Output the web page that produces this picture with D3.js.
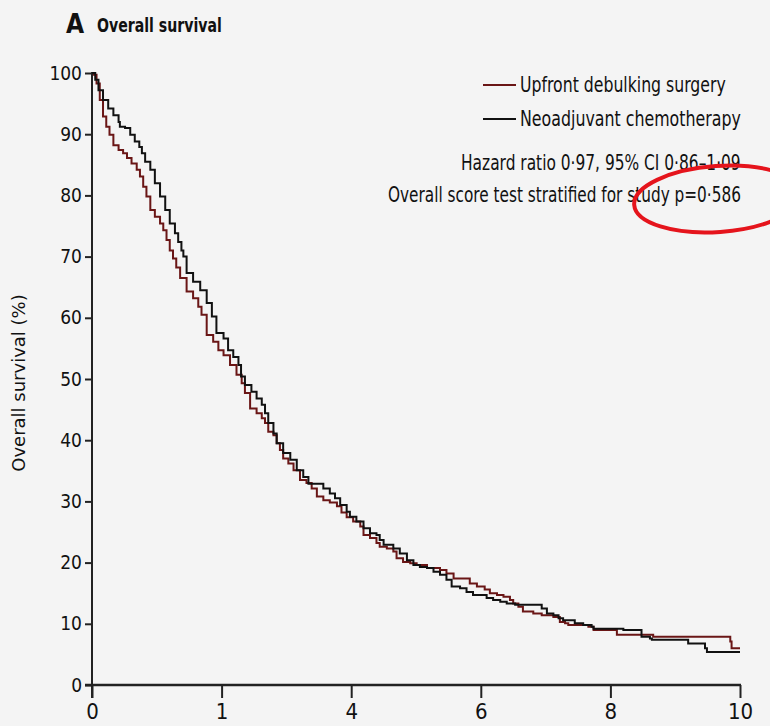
<!DOCTYPE html>
<html>
<head>
<meta charset="utf-8">
<script src="https://cdn.jsdelivr.net/npm/d3@7"></script>
<style>
  html, body { margin: 0; padding: 0; background: #f4f4f4; }
  svg { display: block; }
</style>
</head>
<body>
<svg id="chart" width="770" height="726"></svg>
<script>
// Kaplan-Meier estimates: time in years, survival in %
const udsTime = [0, 0.03, 0.07, 0.12, 0.17, 0.22, 0.27, 0.33, 0.41, 0.48, 0.54, 0.61, 0.69, 0.74, 0.79, 0.84, 0.90, 0.97, 1.05, 1.10, 1.15, 1.20, 1.25, 1.30, 1.36, 1.46, 1.56, 1.64, 1.69, 1.77, 1.87, 1.95, 2.03, 2.13, 2.23, 2.31, 2.36, 2.44, 2.54, 2.62, 2.67, 2.72, 2.80, 2.85, 2.90, 2.95, 3.03, 3.11, 3.21, 3.31, 3.39, 3.47, 3.57, 3.67, 3.78, 3.85, 3.93, 4.03, 4.14, 4.19, 4.29, 4.39, 4.44, 4.55, 4.65, 4.70, 4.80, 4.91, 5.01, 5.17, 5.37, 5.47, 5.58, 5.83, 5.94, 6.06, 6.14, 6.25, 6.35, 6.45, 6.50, 6.58, 6.65, 6.81, 6.94, 7.12, 7.22, 7.30, 7.35, 7.66, 7.74, 8.10, 8.66, 9.85, 9.87, 10.0];
const udsSurv = [100, 99.7, 98.3, 95.6, 92.9, 91.2, 89.9, 88.2, 87.4, 86.9, 86.1, 85.2, 84.2, 83.1, 81.4, 79.8, 77.6, 76.5, 75.4, 74.3, 72.7, 71.0, 69.7, 68.2, 66.5, 64.3, 63.2, 61.8, 60.5, 57.2, 56.1, 54.7, 53.9, 52.3, 50.7, 49.3, 47.7, 45.2, 44.4, 43.6, 42.8, 41.4, 40.8, 39.5, 38.4, 37.0, 36.2, 35.1, 33.5, 33.0, 32.1, 30.8, 30.2, 29.8, 29.2, 28.2, 27.4, 26.7, 25.9, 24.5, 24.0, 23.2, 22.6, 22.3, 21.8, 20.7, 20.1, 19.9, 19.6, 19.1, 18.8, 18.2, 17.4, 16.6, 16.1, 15.6, 15.0, 14.7, 14.4, 13.9, 13.3, 12.8, 12.0, 11.7, 11.4, 11.1, 10.3, 10.1, 9.8, 9.5, 9.0, 8.2, 7.9, 7.1, 6.0, 6.0];

const nactTime = [0, 0.05, 0.10, 0.17, 0.25, 0.33, 0.41, 0.43, 0.51, 0.59, 0.66, 0.73, 0.77, 0.82, 0.90, 0.97, 1.05, 1.13, 1.20, 1.28, 1.33, 1.38, 1.41, 1.46, 1.56, 1.67, 1.77, 1.85, 1.92, 2.03, 2.10, 2.18, 2.26, 2.30, 2.36, 2.46, 2.54, 2.62, 2.67, 2.72, 2.80, 2.85, 2.95, 3.06, 3.16, 3.26, 3.34, 3.57, 3.67, 3.75, 3.83, 3.93, 3.98, 4.08, 4.19, 4.29, 4.39, 4.44, 4.50, 4.65, 4.75, 4.86, 4.96, 5.06, 5.17, 5.27, 5.37, 5.47, 5.55, 5.68, 5.78, 5.88, 6.09, 6.19, 6.30, 6.40, 6.53, 6.94, 7.02, 7.12, 7.20, 7.27, 7.45, 7.58, 7.71, 7.74, 8.20, 8.48, 8.61, 8.64, 9.20, 9.46, 9.49, 10.0];
const nactSurv = [100, 98.9, 97.2, 95.6, 94.2, 93.1, 92.0, 91.2, 91.0, 89.9, 88.8, 87.9, 86.9, 85.5, 84.2, 82.0, 79.8, 77.6, 75.4, 73.8, 72.4, 71.0, 70.0, 67.3, 65.9, 64.5, 62.4, 60.2, 57.5, 56.6, 54.7, 53.6, 52.3, 50.4, 49.0, 47.9, 46.8, 45.8, 44.4, 42.8, 41.1, 39.5, 37.9, 36.8, 35.1, 34.0, 32.9, 32.1, 31.3, 30.5, 29.4, 28.3, 27.5, 26.7, 25.6, 24.8, 24.5, 23.7, 22.9, 22.3, 21.5, 20.4, 19.6, 19.3, 19.1, 18.5, 18.0, 17.2, 16.1, 15.8, 15.2, 14.7, 14.2, 13.9, 13.6, 13.3, 13.1, 12.5, 11.7, 11.4, 10.9, 10.6, 10.1, 9.8, 9.5, 9.2, 9.0, 7.9, 7.6, 7.4, 6.8, 6.0, 5.4, 5.4];

const seriesNames = ["Upfront debulking surgery", "Neoadjuvant chemotherapy"];
const seriesColors = ["#6a1616", "#111111"];

const yTickValues = [0, 10, 20, 30, 40, 50, 60, 70, 80, 90, 100];
const xTickValues = [0, 2, 4, 6, 8, 10];
const xTickLabels = ["0", "1", "4", "6", "8", "10"];

const panelLetter = "A";
const panelTitle = "Overall survival";
const yAxisTitle = "Overall survival (%)";
const statLines = ["Hazard ratio 0·97, 95% CI 0·86–1·09", "Overall score test stratified for study p=0·586"];

const narrow = "'Liberation Sans Narrow','Arial Narrow','DejaVu Sans Condensed',sans-serif";
const wide = "'DejaVu Sans',Verdana,sans-serif";

const svg = d3.select("#chart");
const x = d3.scaleLinear().domain([0, 10]).range([92, 740]);
const y = d3.scaleLinear().domain([0, 100]).range([685, 73]);

// Condensed text: set in the narrow face, then squeezed horizontally to the given width
function condensedText(str, left, baseline, size, weight, width) {
  const t = svg.append("text").attr("x", 0).attr("y", 0)
    .attr("font-family", narrow).attr("font-size", size).attr("font-weight", weight)
    .attr("fill", "#111").text(str);
  const natural = t.node().getComputedTextLength();
  const k = Math.min(1, width / natural);
  t.attr("transform", `translate(${left},${baseline}) scale(${k},1)`);
  return t;
}

// Panel heading
svg.append("text").attr("x", 66).attr("y", 33)
  .attr("font-family", narrow).attr("font-size", 26).attr("font-weight", 700)
  .attr("fill", "#111").text(panelLetter);
condensedText(panelTitle, 97, 32, 20, 700, 125);

// Y axis
const yAxis = d3.axisLeft(y).tickValues(yTickValues).tickSize(7).tickPadding(3);
const gy = svg.append("g").attr("transform", `translate(${x(0)},0)`).call(yAxis);
gy.select(".domain").remove();
gy.selectAll(".tick line").attr("stroke", "#222").attr("stroke-width", 2);
gy.selectAll(".tick text").attr("font-family", narrow).attr("font-size", 19).attr("fill", "#111");
svg.append("line").attr("x1", x(0)).attr("x2", x(0)).attr("y1", y(100) - 1).attr("y2", y(0) + 13)
  .attr("stroke", "#222").attr("stroke-width", 2);

// X axis
const xAxis = d3.axisBottom(x).tickValues(xTickValues).tickSize(13).tickPadding(5)
  .tickFormat((d, i) => xTickLabels[i]);
const gx = svg.append("g").attr("transform", `translate(0,${y(0)})`).call(xAxis);
gx.select(".domain").remove();
gx.selectAll(".tick line").attr("stroke", "#222").attr("stroke-width", 2);
gx.selectAll(".tick text").attr("font-family", narrow).attr("font-size", 22).attr("fill", "#111");
svg.append("line").attr("x1", x(0) - 7).attr("x2", x(10) + 1).attr("y1", y(0)).attr("y2", y(0))
  .attr("stroke", "#222").attr("stroke-width", 2.5);

// Y axis title
svg.append("text").attr("transform", `translate(25,${(y(0) + y(100)) / 2 + 4}) rotate(-90)`)
  .attr("text-anchor", "middle").attr("font-family", wide).attr("font-size", 18)
  .attr("fill", "#111").text(yAxisTitle);

// Survival curves
const line = d3.line().curve(d3.curveStepAfter).x(d => x(d[0])).y(d => y(d[1]));
const series = [
  d3.zip(udsTime, udsSurv),
  d3.zip(nactTime, nactSurv)
];
series.forEach((pts, i) => {
  svg.append("path").datum(pts).attr("d", line)
    .attr("fill", "none").attr("stroke", seriesColors[i]).attr("stroke-width", 2)
    .attr("stroke-linejoin", "miter");
});

// Legend
const legendY = [85, 119];
const legendWidth = [206, 221];
seriesNames.forEach((name, i) => {
  svg.append("line").attr("x1", 483).attr("x2", 516).attr("y1", legendY[i]).attr("y2", legendY[i])
    .attr("stroke", seriesColors[i]).attr("stroke-width", 2);
  condensedText(name, 520, legendY[i] + 7, 21, 400, legendWidth[i]);
});

// Test statistics, right-aligned
const statY = [170, 202];
const statWidth = [280, 353];
statLines.forEach((s, i) => {
  condensedText(s, 741 - statWidth[i], statY[i], 21, 400, statWidth[i]);
});

// Highlight around the p value
svg.append("ellipse").attr("cx", 718).attr("cy", 199).attr("rx", 84).attr("ry", 33)
  .attr("transform", "rotate(-4,718,199)")
  .attr("fill", "none").attr("stroke", "#e5141c").attr("stroke-width", 4);
</script>
</body>
</html>
